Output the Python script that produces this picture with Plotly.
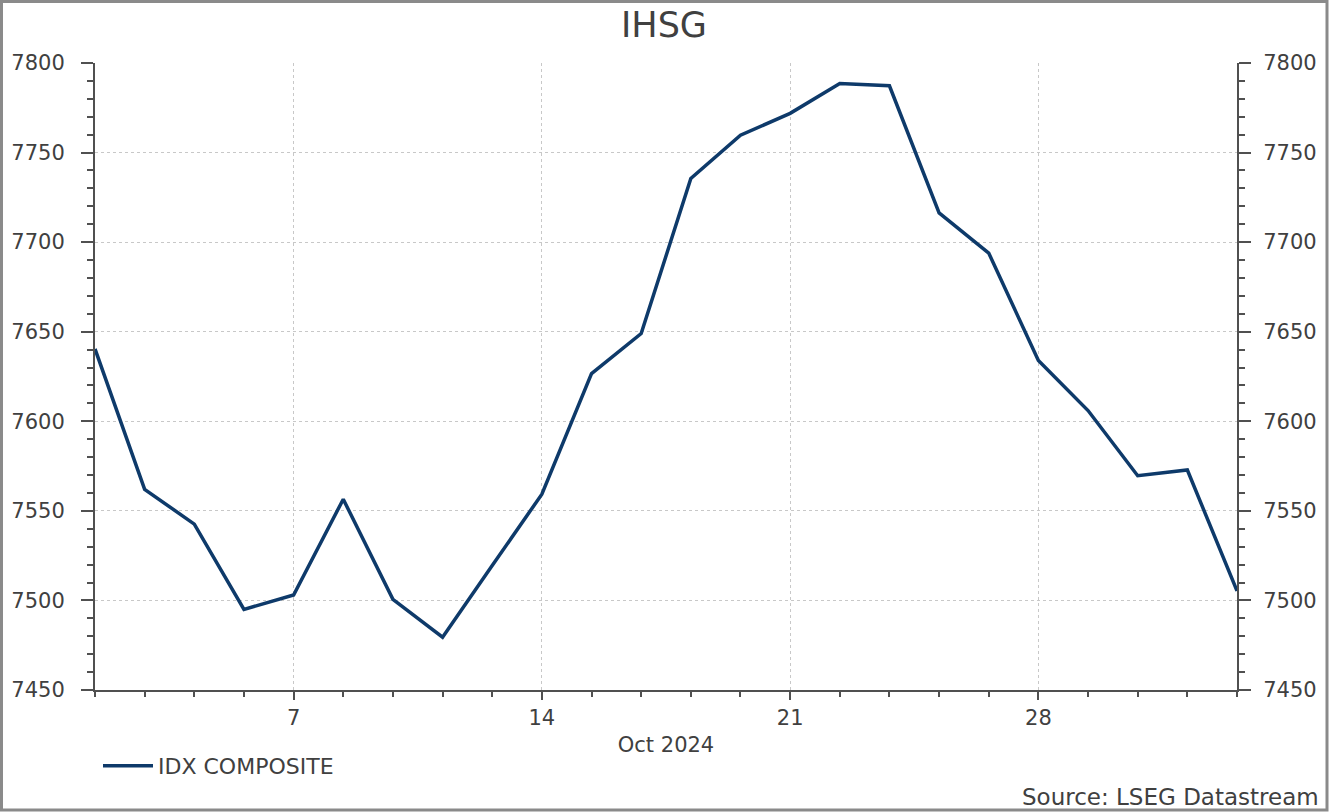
import plotly.graph_objects as go

dates = ["2024-10-01", "2024-10-02", "2024-10-03", "2024-10-04",
         "2024-10-07", "2024-10-08", "2024-10-09", "2024-10-10", "2024-10-11",
         "2024-10-14", "2024-10-15", "2024-10-16", "2024-10-17", "2024-10-18",
         "2024-10-21", "2024-10-22", "2024-10-23", "2024-10-24", "2024-10-25",
         "2024-10-28", "2024-10-29", "2024-10-30", "2024-10-31", "2024-11-01"]
idx_composite = [7640.4, 7562.0, 7542.6, 7495.0,
                 7503.0, 7556.5, 7500.6, 7479.5, 7519.5,
                 7559.3, 7626.6, 7649.0, 7735.5, 7759.7,
                 7771.9, 7788.6, 7787.3, 7716.3, 7693.9,
                 7633.9, 7606.0, 7569.6, 7572.8, 7505.3]
tick_dates = ["2024-10-07", "2024-10-14", "2024-10-21", "2024-10-28"]
tick_text = ["7", "14", "21", "28"]
y_ticks = [7450, 7500, 7550, 7600, 7650, 7700, 7750, 7800]

W, H = 1329, 812
ML, MR, MT, MB = 95, 92, 63, 122
PW, PH = W - ML - MR, H - MT - MB

FONT = "DejaVu Sans"
TXT = "#404040"
AX = "#505050"
GRID = "#c8c8c8"
LINE = "#0e3a6a"

def px_x(p):
    return (p - ML) / PW

def px_y(p):
    return (H - MB - p) / PH

fig = go.Figure()
fig.add_trace(go.Scatter(x=dates, y=idx_composite, mode="lines", name="IDX COMPOSITE",
                         line=dict(color=LINE, width=3.5), yaxis="y"))
fig.add_trace(go.Scatter(x=dates, y=idx_composite, mode="lines", showlegend=False,
                         line=dict(color="rgba(0,0,0,0)", width=0), hoverinfo="skip",
                         yaxis="y2"))

yaxis_common = dict(
    range=[7450, 7800], tickvals=y_ticks, ticks="outside", ticklen=12, tickwidth=2,
    tickcolor=AX, showline=True, linecolor=AX, linewidth=2,
    tickfont=dict(family=FONT, size=21, color=TXT),
    minor=dict(dtick=10, ticks="outside", ticklen=6, tickwidth=2, tickcolor=AX, showgrid=False),
    zeroline=False,
)

fig.update_layout(
    width=W, height=H,
    margin=dict(l=ML, r=MR, t=MT, b=MB, autoexpand=False),
    paper_bgcolor="white", plot_bgcolor="white",
    title=dict(text="IHSG", x=664 / W, xanchor="center",
               y=1 - 25 / H, yanchor="middle", yref="container",
               font=dict(family=FONT, size=35, color=TXT)),
    xaxis=dict(
        type="date", range=["2024-10-01", "2024-11-01"],
        rangebreaks=[dict(bounds=["sat", "mon"])],
        tickvals=tick_dates, ticktext=tick_text,
        ticks="outside", ticklen=8, tickwidth=2, tickcolor=AX,
        showline=True, linecolor=AX, linewidth=2,
        showgrid=True, gridcolor=GRID, griddash="dot", gridwidth=1,
        tickfont=dict(family=FONT, size=21, color=TXT),
        minor=dict(dtick=86400000, tick0="2024-10-01", ticks="outside", ticklen=5,
                   tickwidth=2, tickcolor=AX, showgrid=False),
        title=dict(text="Oct 2024", font=dict(family=FONT, size=21, color=TXT), standoff=8),
        zeroline=False,
    ),
    yaxis=dict(side="left", showgrid=True, gridcolor=GRID, griddash="dot", gridwidth=1,
               ticklabelstandoff=12, **yaxis_common),
    yaxis2=dict(side="right", overlaying="y", showgrid=False, ticklabelstandoff=8,
                **yaxis_common),
    showlegend=True,
    legend=dict(x=px_x(98), xanchor="left", y=px_y(766), yanchor="middle",
                orientation="h", bgcolor="rgba(0,0,0,0)", itemwidth=50,
                font=dict(family=FONT, size=22, color=TXT)),
    annotations=[dict(text="Source: LSEG Datastream", xref="paper", yref="paper",
                      x=px_x(1321), xanchor="right", y=px_y(797), yanchor="middle",
                      showarrow=False, font=dict(family=FONT, size=23, color=TXT))],
    shapes=[dict(type="rect", xref="paper", yref="paper",
                 x0=px_x(1.5), x1=px_x(W - 2), y0=px_y(H - 2), y1=px_y(1.5),
                 line=dict(color="#8a8a8a", width=3), fillcolor="rgba(0,0,0,0)",
                 layer="above")],
)

fig.write_html("out.html", config={"displayModeBar": False},
               post_script="document.body.style.margin='0';document.body.style.overflow='hidden';")
